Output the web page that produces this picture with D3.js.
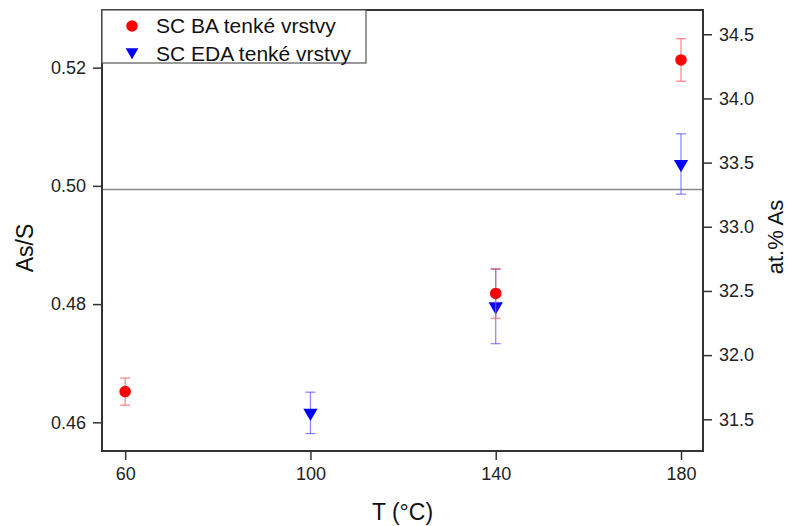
<!DOCTYPE html>
<head>
  <title>As/S vs T</title>
  <style>
    body { margin: 0; background: #fff; }
    svg { font-family: "Liberation Sans", Arial, sans-serif; }
    .axis path, .axis line { stroke: #333; }
    .axis text { fill: #222; font-size: 18px; }
  </style>
</head>
<body>
  <script src="https://cdn.jsdelivr.net/npm/d3@7/dist/d3.min.js"></script>
  <script>
    // data
    var baT = [60, 140, 180];
    var baVal = [0.4652, 0.4818, 0.5213];
    var baErr = [0.0023, 0.0042, 0.0036];

    var edaT = [100, 140, 180];
    var edaVal = [0.4616, 0.4796, 0.5037];
    var edaErr = [0.0035, 0.0063, 0.0051];

    var xTicks = [60, 100, 140, 180];
    var yLeftTicks = [0.46, 0.48, 0.50, 0.52];
    var yRightTicks = [31.5, 32.0, 32.5, 33.0, 33.5, 34.0, 34.5];
    var refLine = 33.29; // on the at.% axis

    var seriesNames = ["SC BA tenké vrstvy", "SC EDA tenké vrstvy"];

    var w = 789, h = 526;
    var pLeft = 102, pRight = 703, pTop = 10, pBottom = 451;

    var x = d3.scaleLinear().domain([55, 184.75]).range([pLeft, pRight]);
    var yL = d3.scaleLinear().domain([0.45515, 0.52975]).range([pBottom, pTop]);
    var yR = d3.scaleLinear().domain([31.253, 34.689]).range([pBottom, pTop]);

    var svg = d3.select("body").append("svg")
      .attr("width", w)
      .attr("height", h);

    // reference line
    svg.append("line")
      .attr("x1", pLeft).attr("x2", pRight)
      .attr("y1", yR(refLine)).attr("y2", yR(refLine))
      .attr("stroke", "#888").attr("stroke-width", 1.5);

    // frame
    svg.append("rect")
      .attr("x", pLeft).attr("y", pTop)
      .attr("width", pRight - pLeft).attr("height", pBottom - pTop)
      .attr("fill", "none").attr("stroke", "#333").attr("stroke-width", 2);

    // axes
    svg.append("g")
      .attr("class", "axis")
      .attr("transform", "translate(0," + pBottom + ")")
      .call(d3.axisBottom(x).tickValues(xTicks).tickSize(9).tickPadding(7).tickSizeOuter(0))
      .call(function(g) { g.select(".domain").remove(); })
      .selectAll("line").attr("stroke-width", 1.5);

    svg.append("g")
      .attr("class", "axis")
      .attr("transform", "translate(" + pLeft + ",0)")
      .call(d3.axisLeft(yL).tickValues(yLeftTicks).tickFormat(d3.format(".2f")).tickSize(9).tickPadding(7).tickSizeOuter(0))
      .call(function(g) { g.select(".domain").remove(); })
      .selectAll("line").attr("stroke-width", 1.5);

    svg.append("g")
      .attr("class", "axis")
      .attr("transform", "translate(" + pRight + ",0)")
      .call(d3.axisRight(yR).tickValues(yRightTicks).tickFormat(d3.format(".1f")).tickSize(9).tickPadding(7).tickSizeOuter(0))
      .call(function(g) { g.select(".domain").remove(); })
      .selectAll("line").attr("stroke-width", 1.5);

    // axis titles
    svg.append("text")
      .attr("x", (pLeft + pRight) / 2).attr("y", 520)
      .attr("text-anchor", "middle")
      .style("font-size", "23px").attr("fill", "#111")
      .text("T (°C)");

    svg.append("text")
      .attr("transform", "translate(33,248) rotate(-90)")
      .attr("text-anchor", "middle")
      .style("font-size", "23px").attr("fill", "#111")
      .text("As/S");

    svg.append("text")
      .attr("transform", "translate(783,237) rotate(-90)")
      .attr("text-anchor", "middle")
      .style("font-size", "22px").attr("fill", "#111")
      .text("at.% As");

    // error bars + markers
    function drawSeries(ts, vals, errs, color, barColor, symbol) {
      var g = svg.append("g");
      var pts = ts.map(function(t, i) { return { t: t, v: vals[i], e: errs[i] }; });
      var cap = 5;
      var eb = g.selectAll(".eb").data(pts).enter().append("g")
        .attr("stroke", barColor).attr("stroke-width", 1.2);
      eb.append("line")
        .attr("x1", function(d) { return x(d.t); }).attr("x2", function(d) { return x(d.t); })
        .attr("y1", function(d) { return yL(d.v + d.e); }).attr("y2", function(d) { return yL(d.v - d.e); });
      eb.append("line")
        .attr("x1", function(d) { return x(d.t) - cap; }).attr("x2", function(d) { return x(d.t) + cap; })
        .attr("y1", function(d) { return yL(d.v + d.e); }).attr("y2", function(d) { return yL(d.v + d.e); });
      eb.append("line")
        .attr("x1", function(d) { return x(d.t) - cap; }).attr("x2", function(d) { return x(d.t) + cap; })
        .attr("y1", function(d) { return yL(d.v - d.e); }).attr("y2", function(d) { return yL(d.v - d.e); });
      g.selectAll(".pt").data(pts).enter().append("path")
        .attr("d", symbol)
        .attr("fill", color)
        .attr("transform", function(d) {
          return "translate(" + x(d.t) + "," + yL(d.v) + ")" + (color === "blue" ? " rotate(180)" : "");
        });
    }

    var circleSym = d3.symbol().type(d3.symbolCircle).size(105);
    var triSym = d3.symbol().type(d3.symbolTriangle).size(88);

    drawSeries(edaT, edaVal, edaErr, "blue", "rgba(90,90,255,0.75)", triSym);
    drawSeries(baT, baVal, baErr, "red", "rgba(255,90,90,0.75)", circleSym);

    // legend
    var lg = svg.append("g");
    lg.append("rect")
      .attr("x", pLeft).attr("y", pTop)
      .attr("width", 264).attr("height", 53)
      .attr("fill", "#fff").attr("stroke", "#555").attr("stroke-width", 1.2);
    lg.append("path").attr("d", circleSym).attr("fill", "red")
      .attr("transform", "translate(132,26)");
    lg.append("path").attr("d", d3.symbol().type(d3.symbolTriangle).size(70)).attr("fill", "blue")
      .attr("transform", "translate(132,52) rotate(180)");
    lg.selectAll(".lt").data(seriesNames).enter().append("text")
      .attr("x", 156)
      .attr("y", function(d, i) { return 33 + i * 28; })
      .style("font-size", "21px").attr("fill", "#111")
      .text(function(d) { return d; });
  </script>
</body>
